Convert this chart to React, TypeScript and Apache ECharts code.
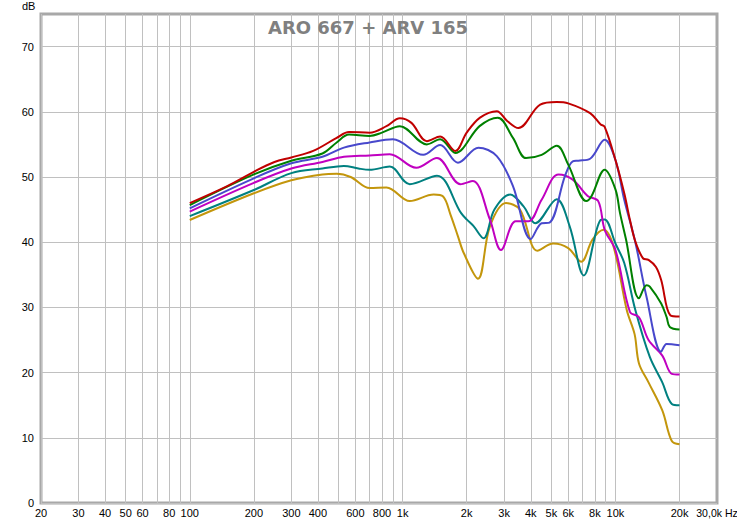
import React, { useEffect, useRef } from "react";
import * as echarts from "echarts";

const gridFreqs = [
  20, 30, 40, 50, 60, 70, 80, 90,
  100, 200, 300, 400, 500, 600, 700, 800, 900,
  1000, 2000, 3000, 4000, 5000, 6000, 7000, 8000, 9000,
  10000, 20000,
];
const labelFreqs = [
  20, 30, 40, 50, 60, 80, 100, 200, 300, 400, 600, 800,
  1000, 2000, 3000, 4000, 5000, 6000, 8000, 10000, 20000, 30000,
];
const yTicks = [0, 10, 20, 30, 40, 50, 60, 70];

const redFreq = [100, 150, 200, 250, 300, 380, 490, 560, 700, 840, 970, 1100, 1300, 1500, 1770, 2000, 2310, 2770, 3100, 3500, 4430, 5300, 6000, 7600, 8500, 8900, 10000, 11000, 11700, 12400, 13500, 14300, 15500, 16400, 18100, 20000];
const redDb = [46.0, 48.6, 50.8, 52.3, 53.0, 54.0, 56.0, 56.9, 56.8, 57.8, 59.0, 58.3, 55.5, 56.2, 54.0, 56.8, 59.1, 60.1, 58.6, 57.5, 61.1, 61.5, 61.3, 59.8, 58.1, 57.7, 52.6, 47.5, 43.4, 40.1, 37.5, 37.3, 36.2, 34.2, 28.8, 28.6];

const greenFreq = [100, 200, 300, 420, 490, 560, 700, 800, 970, 1300, 1500, 1770, 2300, 2800, 3300, 3800, 4500, 5300, 6000, 7300, 7700, 8900, 10000, 10500, 11200, 12900, 14000, 14500, 16400, 17400, 18000, 20000];
const greenDb = [45.7, 50.4, 52.5, 53.6, 55.3, 56.5, 56.3, 56.8, 57.8, 55.0, 55.8, 53.7, 57.8, 59.1, 56.0, 52.9, 53.4, 54.8, 51.9, 46.3, 47.0, 51.1, 48.1, 44.5, 40.5, 31.4, 33.4, 33.2, 30.6, 28.5, 27.0, 26.6];

const blueFreq = [100, 200, 300, 420, 530, 700, 900, 1250, 1500, 1820, 2270, 2770, 3300, 4000, 4500, 4900, 5800, 6300, 6700, 7600, 8900, 10000, 11000, 12400, 14000, 16400, 17400, 20000];
const blueDb = [45.2, 49.8, 52.1, 53.1, 54.5, 55.3, 55.8, 53.4, 54.9, 52.2, 54.5, 53.2, 48.6, 40.5, 42.9, 43.0, 50.2, 52.4, 52.5, 52.8, 55.7, 52.6, 46.5, 40.0, 31.6, 23.2, 24.4, 24.2];

const magentaFreq = [100, 200, 300, 420, 530, 700, 870, 1160, 1450, 1870, 2140, 2570, 2900, 3400, 3900, 4500, 5400, 6300, 7400, 8300, 8900, 10000, 11700, 12900, 14300, 16600, 18400, 20000];
const magentaDb = [44.7, 49.1, 51.3, 52.3, 53.1, 53.3, 53.5, 51.4, 52.9, 48.9, 49.4, 43.5, 38.8, 43.2, 43.2, 46.5, 50.4, 49.6, 47.1, 46.3, 41.9, 38.8, 29.3, 28.5, 25.0, 22.6, 19.8, 19.7];

const tealFreq = [100, 200, 300, 420, 530, 620, 700, 870, 1080, 1450, 1880, 2000, 2150, 2400, 2700, 3200, 3700, 4200, 5300, 6100, 7100, 8500, 8900, 10000, 11000, 12400, 14500, 16600, 18400, 20000];
const tealDb = [44.0, 48.0, 50.6, 51.3, 51.7, 51.3, 51.1, 51.6, 48.9, 50.2, 44.5, 43.5, 42.5, 40.6, 45.0, 47.3, 45.5, 42.9, 46.6, 42.4, 34.9, 43.4, 43.5, 39.8, 36.8, 29.6, 22.4, 18.5, 15.2, 15.0];

const goldFreq = [100, 200, 300, 420, 490, 570, 700, 840, 1080, 1400, 1550, 1680, 1820, 1940, 2260, 2570, 3060, 3560, 4300, 5100, 6000, 6900, 7800, 8800, 9800, 11300, 12300, 12900, 14300, 16600, 18400, 20000];
const goldDb = [43.4, 47.5, 49.5, 50.4, 50.5, 50.0, 48.3, 48.4, 46.3, 47.3, 47.0, 44.2, 40.9, 38.3, 34.4, 42.4, 46.0, 45.0, 38.7, 39.8, 39.1, 37.0, 40.4, 41.9, 39.3, 29.6, 25.9, 21.4, 18.5, 14.2, 9.5, 9.0];

const seriesDefs = [
  { name: "gold", color: "#c3960c", freq: goldFreq, db: goldDb },
  { name: "teal", color: "#008080", freq: tealFreq, db: tealDb },
  { name: "magenta", color: "#c000c0", freq: magentaFreq, db: magentaDb },
  { name: "blue", color: "#4848cc", freq: blueFreq, db: blueDb },
  { name: "green", color: "#008000", freq: greenFreq, db: greenDb },
  { name: "red", color: "#c00000", freq: redFreq, db: redDb },
];

function fmtFreq(v: number): string {
  const r = Math.round(v);
  if (r >= 30000) return "{end|30,0k Hz}";
  if (r >= 1000) return r / 1000 + "k";
  return String(r);
}

export default function App() {
  const ref = useRef<HTMLDivElement>(null);
  useEffect(() => {
    if (!ref.current) return;
    const chart = echarts.init(ref.current, null, { renderer: "svg" });
    const font = "Liberation Sans, Arial, sans-serif";
    chart.setOption({
      animation: false,
      backgroundColor: "#ffffff",
      grid: {
        left: 41,
        right: 20,
        top: 14,
        bottom: 20,
        outerBoundsMode: "none",
        containLabel: false,
        show: true,
        borderColor: "#a8a8a8",
        borderWidth: 3,
      },
      graphic: [
        {
          type: "text",
          left: 22,
          top: 0,
          style: { text: "dB", fontSize: 11, fontFamily: font, fill: "#000" },
        },
        {
          type: "text",
          x: 368,
          y: 27,
          style: {
            text: "ARO 667 + ARV 165",
            fontSize: 18,
            fontWeight: "bold",
            fontFamily: "DejaVu Sans, sans-serif",
            fill: "#808080",
            align: "center",
            verticalAlign: "middle",
          },
          z: 10,
        },
      ],
      xAxis: {
        type: "log",
        logBase: 10,
        min: 20,
        max: 30000,
        axisLine: { show: false },
        axisTick: { show: false, customValues: gridFreqs },
        splitLine: { show: true, lineStyle: { color: "#c0c0c0", width: 1 } },
        axisLabel: {
          customValues: labelFreqs,
          formatter: (v: number) => fmtFreq(v),
          fontSize: 11,
          fontFamily: font,
          color: "#000",
          margin: 4,
          showMinLabel: true,
          showMaxLabel: true,
          rich: {
            end: { fontSize: 10.5, fontFamily: font, color: "#000" },
          },
        },
      },
      yAxis: {
        type: "value",
        min: 0,
        max: 75,
        axisLine: { show: false },
        axisTick: { show: false, customValues: yTicks },
        splitLine: { show: true, lineStyle: { color: "#c0c0c0", width: 1 } },
        axisLabel: {
          customValues: yTicks,
          fontSize: 11,
          fontFamily: font,
          color: "#000",
          margin: 7,
        },
      },
      series: seriesDefs.map((s) => ({
        name: s.name,
        type: "line",
        showSymbol: false,
        smooth: 0.35,
        color: s.color,
        lineStyle: { color: s.color, width: 2 },
        data: s.freq.map((f, i) => [f, s.db[i]]),
      })),
    });
    return () => chart.dispose();
  }, []);
  return <div ref={ref} style={{ width: 737, height: 523, position: "absolute", left: 0, top: 0 }} />;
}
